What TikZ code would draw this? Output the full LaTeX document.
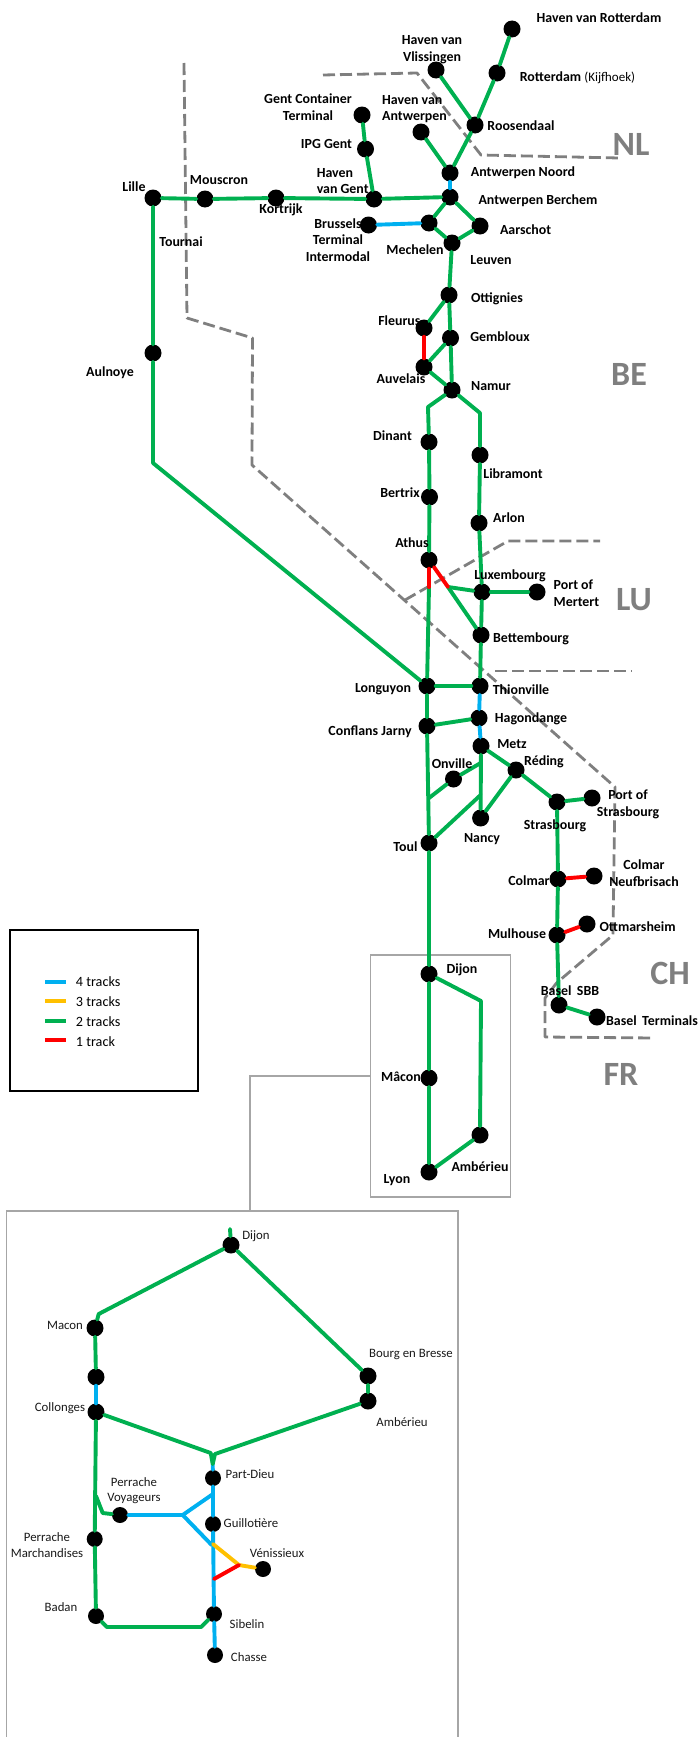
\documentclass[tikz,border=0pt]{standalone}
\usepackage{fontspec}
\setmainfont{Carlito}
\definecolor{tgreen}{HTML}{00B050}
\definecolor{tblue}{HTML}{00B0F0}
\definecolor{tyellow}{HTML}{FFC000}
\definecolor{tred}{HTML}{FF0000}
\definecolor{bordergray}{HTML}{7F7F7F}
\definecolor{boxgray}{HTML}{A6A6A6}
\newcommand\stn[3]{\node[stnode] (#1) at (#2,#3) {};}
\tikzset{
  x=1pt,y=-1pt,
  stnode/.style={circle,fill=black,draw=none,minimum size=17pt,inner sep=0pt},
  smallstn/.style={circle,fill=black,draw=none,minimum size=16pt,inner sep=0pt},
  trk/.style={line width=3.9pt,line cap=round,line join=round},
  two/.style={trk,tgreen},
  four/.style={trk,tblue},
  three/.style={trk,tyellow},
  one/.style={trk,tred},
  frontier/.style={bordergray,line width=2.8pt,dash pattern=on 12pt off 5pt,line join=round},
  frame/.style={boxgray,line width=1.1pt},
  lb/.style={inner sep=0pt,yshift=-1pt,align=center,font=\fontsize{13.9}{16.7}\selectfont\bfseries},
  lbl/.style={lb,align=left},
  rg/.style={inner sep=0pt,yshift=-1pt,align=center,font=\fontsize{12.8}{15.5}\selectfont,text=black!90},
  country/.style={inner sep=0pt,text=bordergray,font=\fontsize{34}{34}\selectfont\bfseries},
  leg/.style={inner sep=0pt,anchor=west,font=\fontsize{14.2}{16}\selectfont},
}
\begin{document}
\begin{tikzpicture}
\useasboundingbox (0,0) rectangle (698,1737);
% frontiers
\coordinate (nl1) at (323,75); \coordinate (nl2) at (417,73); \coordinate (nl3) at (481,155); \coordinate (nl4) at (619,158);
\draw[frontier] (nl1)--(nl2)--(nl3)--(nl4);
\coordinate (fb1) at (184,63); \coordinate (fb2) at (187,318); \coordinate (fb3) at (252.5,338); \coordinate (fb4) at (252,465);
\coordinate (fb5) at (615,787); \coordinate (fb6) at (613,935); \coordinate (fb7) at (556.5,983); \coordinate (fb8) at (545,998);
\coordinate (fb9) at (545,1037); \coordinate (fb10) at (655,1038);
\draw[frontier] (fb1)--(fb2)--(fb3)--(fb4)--(fb5)--(fb6)--(fb7)--(fb8)--(fb9)--(fb10);
\coordinate (lu1) at (405,600); \coordinate (lu2) at (508,541); \coordinate (lu3) at (600,541);
\draw[frontier] (lu1)--(lu2)--(lu3);
\coordinate (lv1) at (495,671); \coordinate (lv2) at (632,671);
\draw[frontier] (lv1)--(lv2);
% boxes
\draw[frame] (370.4,955) rectangle (510.7,1197);
\node[inner sep=0pt] (insetedge) at (370.4,1076) {};
\coordinate (elbow) at (250,1076);
\coordinate (cbox) at (250,1211);
\draw[frame] (insetedge)--(elbow)--(cbox);
\coordinate (bl) at (6.7,1737); \coordinate (tl) at (6.7,1211); \coordinate (tr) at (458,1211); \coordinate (br) at (458,1737);
\draw[frame] (bl)--(tl)--(tr)--(br);
\draw[black,line width=2pt] (10,930) rectangle (198,1091);
% legend
\foreach \n/\c/\y/\ty/\t in {a/tblue/982/982/4 tracks,b/tyellow/1001/1002/3 tracks,c/tgreen/1021/1021.5/2 tracks,d/tred/1040/1042/1 track}{
  \coordinate (lg\n1) at (45.4,\y); \coordinate (lg\n2) at (66,\y);
  \draw[\c,line width=3.6pt] (lg\n1)--(lg\n2);
  \node[leg] (lgt\n) at (75.7,\ty) {\t};
}
% main stations
\stn{havrot}{512}{29}\stn{rot}{497}{73}\stn{vlis}{436}{70}\stn{roos}{475}{125}\stn{havant}{421}{132}
\stn{antn}{450}{173}\stn{antb}{450}{197}\stn{gcont}{362}{115}\stn{ipg}{365.5}{149}\stn{hgent}{374}{199}
\stn{lille}{153}{198}\stn{mous}{205}{199}\stn{kort}{276}{198}\stn{brus}{368.5}{225}\stn{mech}{429}{223}
\stn{leuv}{452}{243}\stn{aars}{480}{226}\stn{otti}{449}{295}\stn{fleu}{424}{328}\stn{gemb}{450.5}{338}
\stn{auve}{424}{367}\stn{namu}{452}{390}\stn{dina}{429}{442}\stn{auln}{153}{353}\stn{libr}{480}{455}
\stn{bert}{429.5}{497}\stn{arlo}{479}{523}\stn{athu}{429}{560}\stn{luxe}{482}{592}\stn{mert}{537}{592}
\stn{bett}{481}{635}\stn{long}{427}{686}\stn{thio}{480}{686}\stn{hago}{479}{718}\stn{conf}{427}{726}
\stn{metz}{481}{746}\stn{onvi}{453.5}{779}\stn{redi}{516}{770}\stn{stra}{557}{802}\stn{pstr}{592}{798}
\stn{nanc}{480.6}{818}\stn{toul}{429}{843}\stn{colm}{558}{879}\stn{cneu}{594}{876}\stn{mulh}{557}{935}
\stn{ottm}{587}{924}\stn{bsbb}{559}{1005}\stn{bter}{597}{1017}\stn{dijo}{429}{974}\stn{amba}{480}{1135}
\stn{maco}{429}{1078}\stn{lyon}{429}{1172}
% junctions
\coordinate (jnl) at (428,407); \coordinate (jnr) at (480,413);
\coordinate (jax) at (429,587); \coordinate (jay) at (448,587);
\coordinate (jlil) at (153,463);
\coordinate (jo1) at (429,798); \coordinate (jo2) at (480.6,763); \coordinate (jt2) at (480.6,795);
\coordinate (jdi) at (481,1001);
% main lines
\draw[two] (havrot)--(rot)--(roos)--(antn);
\draw[two] (vlis)--(roos);
\draw[two] (havant)--(antn);
\draw[four] (antn)--(antb);
\draw[two] (gcont)--(ipg)--(hgent)--(antb);
\draw[two] (lille)--(mous)--(kort)--(hgent);
\draw[two] (antb)--(mech)--(leuv)--(aars)--(antb);
\draw[four] (brus)--(mech);
\draw[two] (leuv)--(otti)--(gemb)--(namu);
\draw[two] (otti)--(fleu);
\draw[one] (fleu)--(auve);
\draw[two] (gemb)--(auve)--(namu);
\draw[two] (namu)--(jnl)--(dina)--(bert)--(athu);
\draw[two] (namu)--(jnr)--(libr)--(arlo)--(luxe)--(bett)--(thio);
\draw[two] (lille)--(auln)--(jlil)--(long);
\draw[two] (jax)--(long);
\draw[two] (jay)--(luxe);
\draw[two] (jay)--(bett);
\draw[one] (athu)--(jax);
\draw[one] (athu)--(jay);
\draw[two] (luxe)--(mert);
\draw[two] (long)--(thio);
\draw[four] (thio)--(hago)--(metz);
\draw[two] (long)--(conf)--(toul)--(dijo)--(maco)--(lyon)--(amba)--(jdi)--(dijo);
\draw[two] (conf)--(hago);
\draw[two] (metz)--(nanc);
\draw[two] (jo1)--(onvi)--(jo2);
\draw[two] (toul)--(jt2);
\draw[two] (metz)--(redi)--(stra)--(pstr);
\draw[two] (redi)--(nanc);
\draw[two] (stra)--(colm)--(mulh)--(bsbb)--(bter);
\draw[one] (colm)--(cneu);
\draw[one] (mulh)--(ottm);
% inset stations
\stn{idij}{231}{1245}\stn{imac}{95}{1328}\stn{iunn}{96}{1377}\stn{icol}{96}{1412}\stn{ibou}{368}{1376}
\stn{iamb}{368}{1401}
\node[smallstn] (ipar) at (213,1478) {};\node[smallstn] (igui) at (213,1524) {};
\node[smallstn] (ipev) at (120,1515) {};\node[smallstn] (ipem) at (94.7,1539) {};
\node[smallstn] (iven) at (263,1569) {};\node[smallstn] (isib) at (214,1614) {};
\node[smallstn] (icha) at (215,1655) {};\node[smallstn] (ibad) at (96,1616) {};
\coordinate (istub) at (230,1229); \coordinate (ibm) at (98.7,1314);
\coordinate (ij1) at (210.7,1453); \coordinate (ij2) at (212.7,1464); \coordinate (ij3) at (215,1454);
\coordinate (ibr1) at (96,1496); \coordinate (ibr2) at (102.7,1513);
\coordinate (ibl) at (182.7,1515); \coordinate (ibu) at (213,1494); \coordinate (ibd) at (211.7,1545);
\coordinate (iyl) at (213,1544); \coordinate (iyr) at (239,1565); \coordinate (irl) at (214,1579);
\coordinate (ib1) at (107,1627); \coordinate (ib2) at (201,1627);
% inset lines
\draw[four] (ij2)--(ipar)--(igui)--(isib)--(icha);
\draw[two] (istub)--(idij)--(ibm)--(imac)--(iunn);
\draw[four] (iunn)--(icol);
\draw[two] (idij)--(ibou)--(iamb)--(ij3)--(ij2)--(ij1)--(icol)--(ipem)--(ibad)--(ib1)--(ib2)--(isib);
\draw[two] (ibr1)--(ibr2)--(ipev);
\draw[four] (ipev)--(ibl)--(ibu);
\draw[four] (ibl)--(ibd);
\draw[three] (iyl)--(iyr)--(iven);
\draw[one] (irl)--(iyr);
% labels
\node[lb] (t1) at (599,17) {Haven van Rotterdam};
\node[lb] (t2) at (432,49) {Haven van\\Vlissingen};
\node[lb] (t3) at (577.5,77) {Rotterdam {\mdseries\fontsize{13}{14}\selectfont(Kijfhoek)}};
\node[lb] (t4) at (308,106) {Gent Container\\Terminal};
\node[lb] (t5) at (326.5,143) {IPG Gent};
\node[lbl,anchor=west] (t6) at (382,108) {Haven van\\Antwerpen};
\node[lb] (t7) at (521,125) {Roosendaal};
\node[lb] (t8) at (523,172) {Antwerpen Noord};
\node[lb] (t9) at (538,200) {Antwerpen Berchem};
\node[lb] (t10) at (525.6,229) {Aarschot};
\node[lb] (t11) at (491,259) {Leuven};
\node[lb] (t12) at (497,298) {Ottignies};
\node[lb] (t13) at (500,336) {Gembloux};
\node[lb] (t14) at (491,385) {Namur};
\node[lb] (t15) at (134,186) {Lille};
\node[lb] (t16) at (219,179) {Mouscron};
\node[lb] (t17) at (281,209) {Kortrijk};
\node[lb] (t18) at (181,241) {Tournai};
\node[lbl,anchor=west] (t19) at (316.6,180) {Haven\\van Gent};
\node[lb] (t20) at (338,239) {Brussels\\Terminal\\Intermodal};
\node[lb] (t21) at (415,249) {Mechelen};
\node[lb] (t22) at (399.4,320) {Fleurus};
\node[lb] (t23) at (401,378) {Auvelais};
\node[lb] (t24) at (392.5,435) {Dinant};
\node[lb] (t25) at (110,372) {Aulnoye};
\node[lb] (t26) at (513,473) {Libramont};
\node[lb] (t27) at (400,492) {Bertrix};
\node[lb] (t28) at (509,517) {Arlon};
\node[lb] (t29) at (412,542) {Athus};
\node[lb] (t30) at (510,575) {Luxembourg};
\node[lbl,anchor=west] (t31) at (553.5,592) {Port of\\Mertert};
\node[lb] (t32) at (531,638) {Bettembourg};
\node[lb] (t33) at (383,688) {Longuyon};
\node[lb] (t34) at (521,689) {Thionville};
\node[lb] (t35) at (531,718) {Hagondange};
\node[lb] (t36) at (370,731) {Conflans Jarny};
\node[lb] (t37) at (512,743) {Metz};
\node[lb] (t38) at (452,763) {Onville};
\node[lb] (t39) at (544,761) {Réding};
\node[lb] (t40) at (628,803.5) {Port of\\Strasbourg};
\node[lb] (t41) at (555,825) {Strasbourg};
\node[lb] (t42) at (482,838) {Nancy};
\node[lb] (t43) at (405.5,846) {Toul};
\node[lb] (t44) at (529,880) {Colmar};
\node[lb] (t45) at (644,872) {Colmar\\Neufbrisach};
\node[lb] (t46) at (517,933) {Mulhouse};
\node[lb] (t47) at (637.6,926) {Ottmarsheim};
\node[lb] (t48) at (570,990) {Basel\ \,SBB};
\node[lb] (t49) at (652,1020) {Basel\ \,Terminals};
\node[lb] (t50) at (462,969) {Dijon};
\node[lb] (t51) at (401,1076) {Mâcon};
\node[lb] (t52) at (480,1166) {Ambérieu};
\node[lb] (t53) at (397,1179) {Lyon};
\node[country] (cnl) at (631,144) {NL};
\node[country] (cbe) at (629,374) {BE};
\node[country] (clu) at (634,600) {LU};
\node[country] (cch) at (670,973) {CH};
\node[country] (cfr) at (621,1074) {FR};
\node[rg] (r1) at (256,1235) {Dijon};
\node[rg] (r2) at (65,1324) {Macon};
\node[rg] (r3) at (60,1407) {Collonges};
\node[rg] (r4) at (411,1353) {Bourg en Bresse};
\node[rg] (r5) at (402,1421) {Ambérieu};
\node[rg] (r6) at (250,1473) {Part-Dieu};
\node[rg] (r7) at (134,1489.5) {Perrache\\Voyageurs};
\node[rg] (r8) at (251,1522) {Guillotière};
\node[rg] (r9) at (47,1544) {Perrache\\Marchandises};
\node[rg] (r10) at (277,1552) {Vénissieux};
\node[rg] (r11) at (61,1606) {Badan};
\node[rg] (r12) at (247,1623) {Sibelin};
\node[rg] (r13) at (249,1656) {Chasse};
\end{tikzpicture}
\end{document}
